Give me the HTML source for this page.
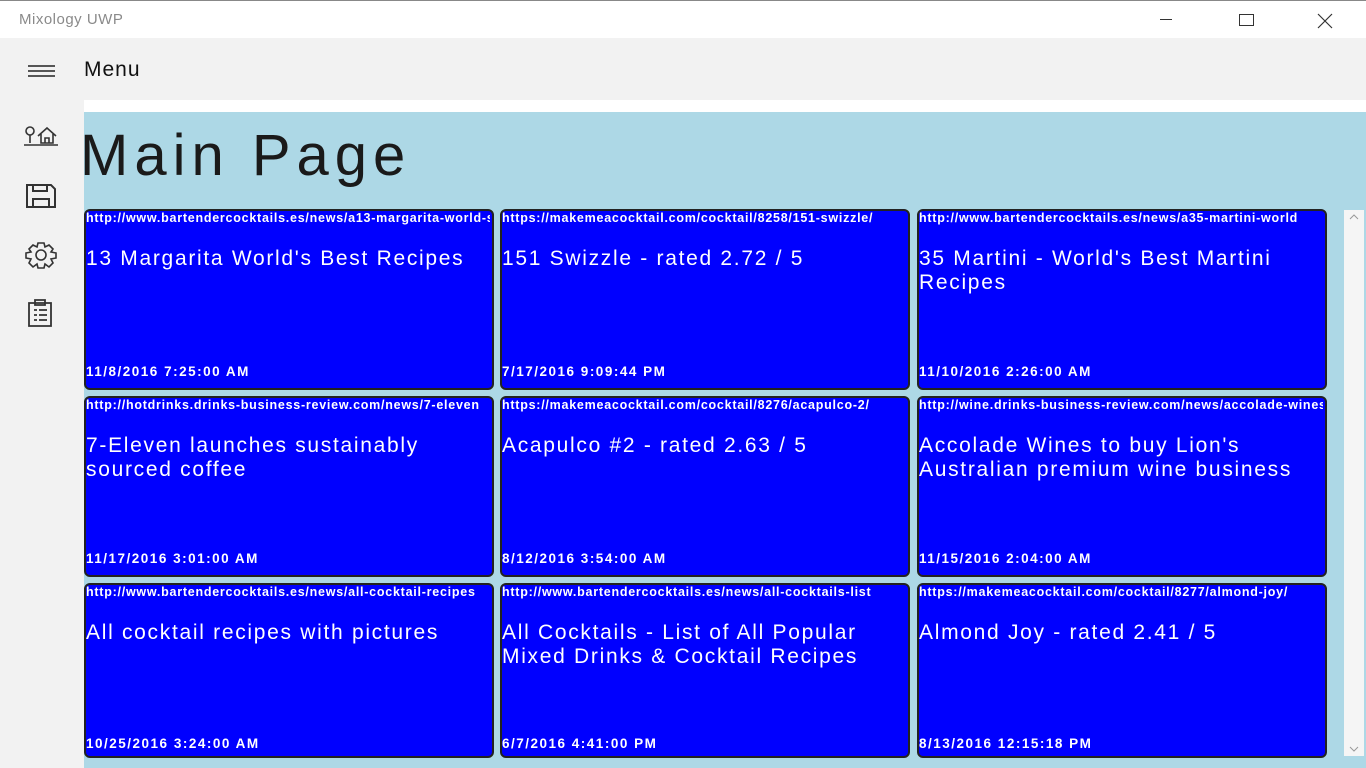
<!DOCTYPE html>
<html><head><meta charset="utf-8"><style>
*{margin:0;padding:0;box-sizing:border-box}
body{width:1366px;height:768px;overflow:hidden;background:#f2f2f2;font-family:"Liberation Sans",sans-serif;position:relative}
.tb{position:absolute;left:0;top:0;width:1366px;height:38px;background:#fff;border-top:1px solid #888}
.tb .t{position:absolute;left:19px;top:10px;font-size:15px;color:#8a8a8a;letter-spacing:0.5px}
.side{position:absolute;left:0;top:38px;width:84px;height:730px;background:#f2f2f2}
.menu{position:absolute;left:84px;top:58px;font-size:21px;color:#111;letter-spacing:1px}
.white{position:absolute;left:84px;top:100px;width:1282px;height:12px;background:#fff}
.main{position:absolute;left:84px;top:112px;width:1282px;height:656px;background:#add8e6}
.title{position:absolute;left:80px;top:122px;font-size:58px;color:#1a1a1a;letter-spacing:6px}
.sb{position:absolute;left:1344px;top:210px;width:20px;height:546px;background:#f5f5f5}
.tile{position:absolute;width:410px;height:181px;background:#0000ff;border:2px solid #222;border-radius:6px;color:#fff;overflow:hidden}
.u{position:absolute;left:0;top:0;font-size:12.5px;font-weight:bold;white-space:nowrap;width:404px;overflow:hidden;letter-spacing:0.75px}
.h{position:absolute;left:0;top:36px;font-size:21px;line-height:24px;width:400px;letter-spacing:1.7px}
.d{position:absolute;left:0;bottom:9px;font-size:13.5px;font-weight:bold;letter-spacing:1.5px}
svg{position:absolute}
</style></head><body>
<div class="tb"><div class="t">Mixology UWP</div>
<div style="position:absolute;left:1160px;top:18px;width:12px;height:1px;background:#333"></div>
<div style="position:absolute;left:1239px;top:13px;width:15px;height:12px;border:1px solid #333"></div>
<svg style="left:1317px;top:12px" width="16" height="16"><path d="M1 1L15 15M15 1L1 15" stroke="#333" stroke-width="1.2"/></svg>
</div>
<div class="side"></div>
<svg style="left:28px;top:64px" width="28" height="14"><path d="M0 2H27M0 7H27M0 12H27" stroke="#222" stroke-width="1.5"/></svg>
<div class="menu">Menu</div>
<svg style="left:22px;top:124px" width="38" height="24"><circle cx="8" cy="7" r="4" fill="none" stroke="#333" stroke-width="1.6"/><path d="M8 11V19M2 21H36M16 12L25 4L34 12M19 10V19H31V10M23 19V14H27V19" fill="none" stroke="#333" stroke-width="1.6"/></svg>
<svg style="left:25px;top:183px" width="32" height="26"><path d="M2 2H26L30 6V24H2Z M8 24V16H24V24 M8 2V8H22V2" fill="none" stroke="#333" stroke-width="2"/></svg>
<svg style="left:24px;top:241px" width="34" height="28"><circle cx="17" cy="14" r="5" fill="none" stroke="#333" stroke-width="1.6"/><path d="M14 2H20L21 6L25 4L29 8L27 11L32 12V17L27 18L29 22L25 26L21 23L20 27H14L13 23L9 26L5 22L7 18L2 17V12L7 11L5 8L9 4L13 6Z" fill="none" stroke="#333" stroke-width="1.6"/></svg>
<svg style="left:27px;top:299px" width="28" height="28"><path d="M2 4H24V27H2Z M8 1H18V6H8Z M7 11H10M12 11H20M7 16H10M12 16H20M7 21H10M12 21H20" fill="none" stroke="#333" stroke-width="1.8"/></svg>
<div class="white"></div>
<div class="main"></div>
<div class="title">Main Page</div>
<div class="sb"><svg style="left:5px;top:4px" width="10" height="6"><path d="M1 5L5 1L9 5" fill="none" stroke="#999"/></svg><svg style="left:5px;top:536px" width="10" height="6"><path d="M1 1L5 5L9 1" fill="none" stroke="#999"/></svg></div>

<div class="tile" style="left:84px;top:209px"><div class="u">http://www.bartendercocktails.es/news/a13-margarita-world-s-best</div><div class="h">13 Margarita World's Best Recipes</div><div class="d">11/8/2016 7:25:00 AM</div></div>
<div class="tile" style="left:500px;top:209px"><div class="u">https://makemeacocktail.com/cocktail/8258/151-swizzle/</div><div class="h">151 Swizzle - rated 2.72 / 5</div><div class="d">7/17/2016 9:09:44 PM</div></div>
<div class="tile" style="left:917px;top:209px"><div class="u">http://www.bartendercocktails.es/news/a35-martini-world</div><div class="h">35 Martini - World's Best Martini Recipes</div><div class="d">11/10/2016 2:26:00 AM</div></div>

<div class="tile" style="left:84px;top:396px"><div class="u">http://hotdrinks.drinks-business-review.com/news/7-eleven</div><div class="h">7-Eleven launches sustainably sourced coffee</div><div class="d">11/17/2016 3:01:00 AM</div></div>
<div class="tile" style="left:500px;top:396px"><div class="u">https://makemeacocktail.com/cocktail/8276/acapulco-2/</div><div class="h">Acapulco #2 - rated 2.63 / 5</div><div class="d">8/12/2016 3:54:00 AM</div></div>
<div class="tile" style="left:917px;top:396px"><div class="u">http://wine.drinks-business-review.com/news/accolade-wines</div><div class="h">Accolade Wines to buy Lion's Australian premium wine business</div><div class="d">11/15/2016 2:04:00 AM</div></div>

<div class="tile" style="left:84px;top:583px;height:175px"><div class="u">http://www.bartendercocktails.es/news/all-cocktail-recipes</div><div class="h">All cocktail recipes with pictures</div><div class="d" style="bottom:5px">10/25/2016 3:24:00 AM</div></div>
<div class="tile" style="left:500px;top:583px;height:175px"><div class="u">http://www.bartendercocktails.es/news/all-cocktails-list</div><div class="h">All Cocktails - List of All Popular Mixed Drinks &amp; Cocktail Recipes</div><div class="d" style="bottom:5px">6/7/2016 4:41:00 PM</div></div>
<div class="tile" style="left:917px;top:583px;height:175px"><div class="u">https://makemeacocktail.com/cocktail/8277/almond-joy/</div><div class="h">Almond Joy - rated 2.41 / 5</div><div class="d" style="bottom:5px">8/13/2016 12:15:18 PM</div></div>
</body></html>
